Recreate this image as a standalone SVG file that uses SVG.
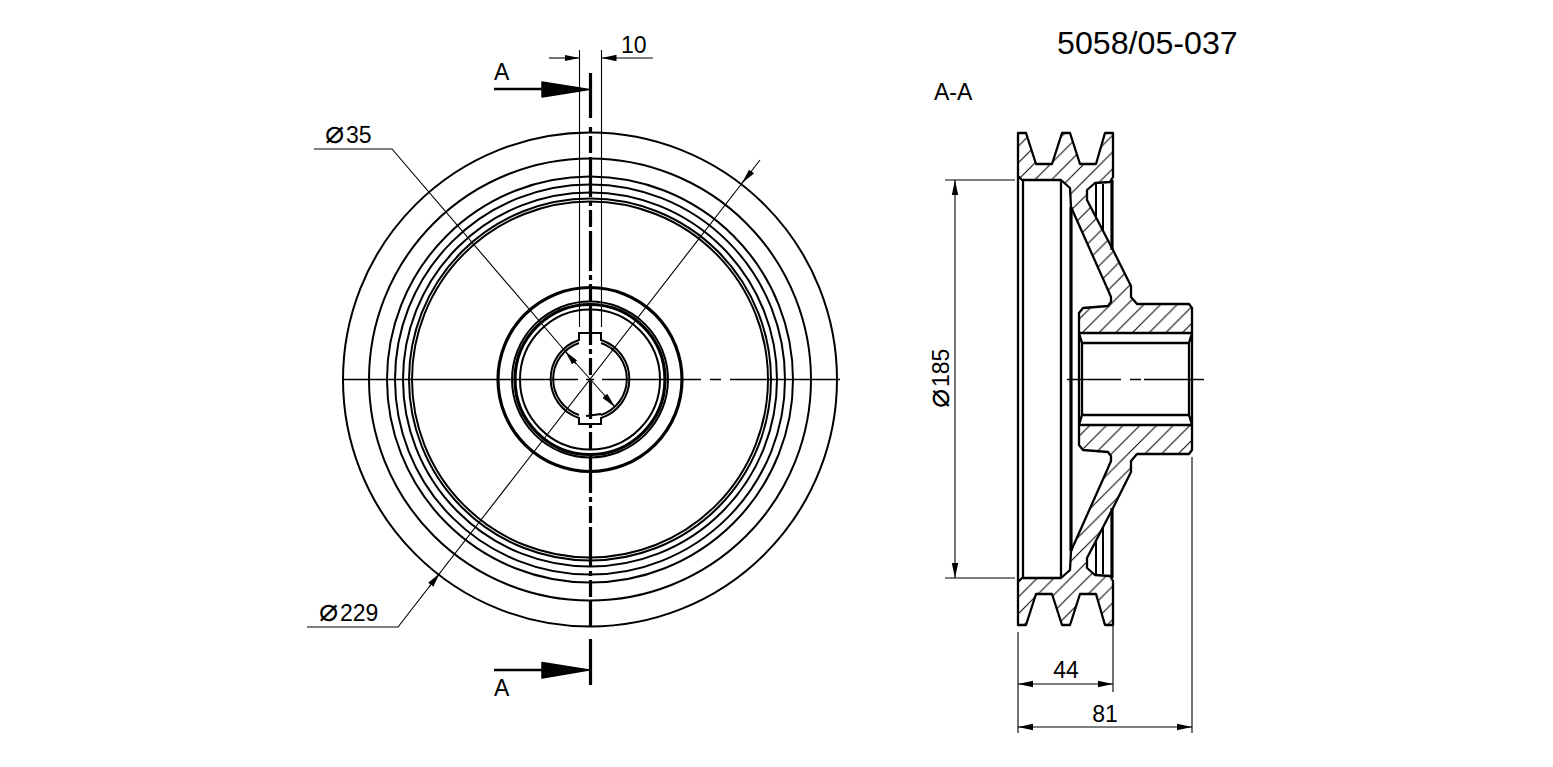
<svg xmlns="http://www.w3.org/2000/svg" width="1553" height="767" viewBox="0 0 1553 767">
<style>
.t{font-family:"Liberation Sans",Arial,sans-serif;font-size:23px;fill:#000}
.p{font-family:"DejaVu Sans",sans-serif;font-size:32px}
.m{fill:none;stroke:#000;stroke-width:2}
.k{fill:none;stroke:#000;stroke-width:3.2}
.d{fill:none;stroke:#000;stroke-width:1.1}
.h{fill:none;stroke:#000;stroke-width:2.3;stroke-linejoin:round}
.c{fill:none;stroke:#000;stroke-width:1.5}
.s{fill:#000;stroke:#000;stroke-width:1.5;stroke-linejoin:round}
</style>
<defs>
<marker id="a" markerUnits="userSpaceOnUse" markerWidth="16" markerHeight="10" refX="15" refY="5" orient="auto-start-reverse"><path d="M0,1.8L15,5L0,8.2Z" fill="#000"/></marker>
<pattern id="hat" patternUnits="userSpaceOnUse" x="12.2" width="16.7" height="16.7"><path d="M-1,17.7L17.7,-1M-1,1L1,-1M15.7,17.7L17.7,15.7" stroke="#000" stroke-width="1" fill="none"/></pattern>
</defs>
<rect width="1553" height="767" fill="#fff"/>
<g id="front-view">
<g class="m">
<circle cx="590" cy="379.5" r="247"/><circle cx="590" cy="379.5" r="221"/><circle cx="590" cy="379.5" r="203"/><circle cx="590" cy="379.5" r="195"/><circle cx="590" cy="379.5" r="187"/><circle cx="590" cy="379.5" r="181"/><circle cx="590" cy="379.5" r="178"/>
<circle cx="590" cy="379.5" r="78"/><circle cx="590" cy="379.5" r="70"/>
</g>
<circle class="k" cx="590" cy="379.5" r="92"/>
<circle class="k" cx="590" cy="379.5" r="75"/>
<path class="m" d="M579,340A41,41 0 0 0 579,418L579,424L601,424L601,418A41,41 0 0 0 601,340L601,333L579,333Z"/>
<path class="m" d="M579,343A38,38 0 0 0 579,415M601,415A38,38 0 0 0 601,343M586,416L601,414"/>
<path class="c" d="M343,379.5H578M586,379.5H594M602,379.5H701M710,379.5H721M730,379.5H840"/>
</g>
<g id="section-line">
<path class="k" d="M590.5,73V118M590.5,639V685"/>
<path class="k" d="M590.5,127V626" stroke-dasharray="5 4 17 4 40 4"/>
<path d="M494,89H542M494,670H542" stroke="#000" stroke-width="2.5" fill="none"/>
<path class="s" d="M542,82L589,89.5L542,97Z"/>
<path class="s" d="M542,662.5L589,670L542,678Z"/>
</g>
<g id="front-dimensions">
<path class="d" d="M579.5,50V327M601.5,50V327"/>
<path class="d" d="M549,58H579.5" marker-end="url(#a)"/>
<path class="d" d="M653,58H601.5" marker-end="url(#a)"/>
<path class="d" d="M314,149H392L565,351"/>
<path class="d" d="M576,364L565,351" marker-end="url(#a)"/>
<path class="d" d="M565,351L615,407"/>
<path class="d" d="M604,395L615,407" marker-end="url(#a)"/>
<path class="d" d="M307,627H398L760,160"/>
<path class="d" d="M429,587L440,573" marker-end="url(#a)"/>
<path class="d" d="M752,171L742,183" marker-end="url(#a)"/>
</g>
<g id="section-view">
<path fill="url(#hat)" d="M1018,133H1026L1036,164H1052L1062,133H1070L1080,164H1096L1105,133H1113V177L1110,182L1095,183L1087,190V200L1113,250L1131,286V297L1137,304H1189L1192,308V333H1079V313L1083,308L1108,306L1111,302V297L1108,290L1071,207L1070,188L1061,180H1022L1018,176Z"/>
<path fill="url(#hat)" d="M1018,625H1026L1036,594H1052L1062,625H1070L1080,594H1096L1105,625H1113V581L1110,576L1095,575L1087,568V558L1113,508L1131,472V461L1137,454H1189L1192,450V425H1079V445L1083,450L1108,452L1111,456V461L1108,468L1071,551L1070,570L1061,578H1022L1018,582Z"/>
<path class="h" d="M1071,207L1070,188L1061,180H1022L1018,176V133H1026L1036,164H1052L1062,133H1070L1080,164H1096L1105,133H1113V177L1110,182L1095,183L1087,190V200L1113,250L1131,286V297L1137,304H1189L1192,308V333M1071,207L1108,290L1111,297V302L1108,306L1083,308L1079,313V333"/>
<path class="h" d="M1071,551L1070,570L1061,578H1022L1018,582V625H1026L1036,594H1052L1062,625H1070L1080,594H1096L1105,625H1113V581L1110,576L1095,575L1087,568V558L1113,508L1131,472V461L1137,454H1189L1192,450V425M1071,551L1108,468L1111,461V456L1108,452L1083,450L1079,445V425"/>
<path class="h" d="M1018,176V582M1023,180V578M1061,180V578"/>
<path class="k" d="M1071,207V551"/>
<path class="k" d="M1112,180V250M1112,508V578"/>
<path class="m" d="M1096,184V216M1103,184V230M1096,574V542M1103,574V528"/>
<path class="h" d="M1079,333H1192V425H1079ZM1079,333L1082,343V415L1079,425M1192,333L1189,343V415L1192,425M1082,343H1189M1082,415H1189"/>
<path class="c" d="M1067,379.5H1121M1130,379.5H1141M1144,379.5H1204"/>
</g>
<g id="section-dimensions">
<path class="d" d="M945,180H1015M945,578H1015"/>
<path class="d" d="M955,180V578" marker-start="url(#a)" marker-end="url(#a)"/>
<path class="d" d="M1018,632V733M1113,626V692M1192,457V733"/>
<path class="d" d="M1018,684H1113" marker-start="url(#a)" marker-end="url(#a)"/>
<path class="d" d="M1018,727H1192" marker-start="url(#a)" marker-end="url(#a)"/>
</g>
<g id="labels">
<text class="t" x="1057" y="54" style="font-size:32.2px">5058/05-037</text>
<text class="t" x="934" y="100">A-A</text>
<text class="t" x="494" y="80">A</text>
<text class="t" x="494" y="696">A</text>
<text class="t" x="621" y="53">10</text>
<text class="t" x="325" y="143"><tspan class="p">⌀</tspan><tspan x="346">35</tspan></text>
<text class="t" x="319" y="621"><tspan class="p">⌀</tspan><tspan x="340">229</tspan></text>
<text class="t" transform="translate(949,408) rotate(-90)"><tspan class="p">⌀</tspan><tspan x="21">185</tspan></text>
<text class="t" x="1066" y="678" text-anchor="middle">44</text>
<text class="t" x="1105" y="722" text-anchor="middle">81</text>
</g>
</svg>
